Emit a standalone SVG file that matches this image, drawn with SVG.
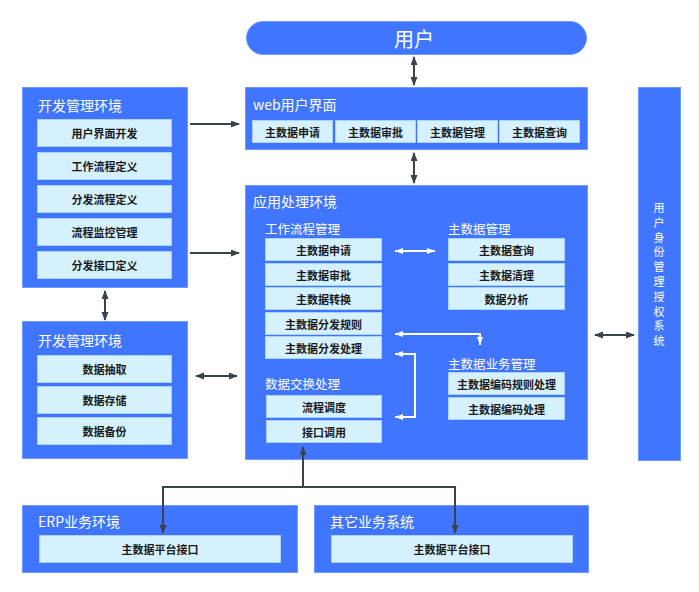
<svg xmlns="http://www.w3.org/2000/svg" width="699" height="592" viewBox="0 0 699 592">
<style>
.blk{fill:#4076FF;stroke:#6E9BFF;stroke-width:1}
.sub{fill:#D5F1FD;stroke:#A9D2F5;stroke-width:1}
.ttl{font-family:"Noto Sans CJK SC","Noto Sans",sans-serif;fill:#fff;font-size:14px;dominant-baseline:central}
.grp{font-family:"Noto Sans CJK SC","Noto Sans",sans-serif;fill:#fff;font-size:12.5px;dominant-baseline:central}
.st{font-family:"Noto Sans CJK SC","Noto Sans",sans-serif;fill:#1a1a1a;font-size:11px;font-weight:bold;text-anchor:middle;dominant-baseline:central}
.dk{fill:none;stroke:#3A4448;stroke-width:2}
.wh{fill:none;stroke:#fff;stroke-width:2}
</style>
<defs>
<marker id="ad" markerUnits="userSpaceOnUse" markerWidth="10" markerHeight="8" refX="8" refY="3.5" orient="auto-start-reverse"><path d="M0,0 L9,3.5 L0,7 Z" fill="#3A4448"/></marker>
<marker id="aw" markerUnits="userSpaceOnUse" markerWidth="10" markerHeight="8" refX="8" refY="3" orient="auto-start-reverse"><path d="M0,0 L8,3 L0,6 Z" fill="#fff"/></marker>
</defs>
<rect width="699" height="592" fill="#fff"/>

<g id="user">
<rect x="246.5" y="21.5" width="340" height="33" rx="16.5" class="blk"/>
<text x="414" y="38" font-family="Noto Sans CJK SC,sans-serif" font-size="20" fill="#fff" text-anchor="middle" dominant-baseline="central">用户</text>
</g>

<g id="web">
<rect x="245.5" y="87.5" width="342" height="62" class="blk"/>
<text x="253" y="104" class="ttl">web用户界面</text>
<rect x="252.5" y="120.5" width="80" height="22" class="sub"/><text x="292.5" y="131.5" class="st">主数据申请</text>
<rect x="335.5" y="120.5" width="80" height="22" class="sub"/><text x="375.5" y="131.5" class="st">主数据审批</text>
<rect x="417.5" y="120.5" width="80" height="22" class="sub"/><text x="457.5" y="131.5" class="st">主数据管理</text>
<rect x="499.5" y="120.5" width="80" height="22" class="sub"/><text x="539.5" y="131.5" class="st">主数据查询</text>
</g>

<g id="dev1">
<rect x="22.5" y="87.5" width="165" height="200" class="blk"/>
<text x="38" y="105" class="ttl">开发管理环境</text>
<rect x="37.5" y="119.5" width="134" height="27" class="sub"/><text x="104.5" y="133" class="st">用户界面开发</text>
<rect x="37.5" y="152.5" width="134" height="27" class="sub"/><text x="104.5" y="166" class="st">工作流程定义</text>
<rect x="37.5" y="185.5" width="134" height="27" class="sub"/><text x="104.5" y="199" class="st">分发流程定义</text>
<rect x="37.5" y="218.5" width="134" height="27" class="sub"/><text x="104.5" y="232" class="st">流程监控管理</text>
<rect x="37.5" y="251.5" width="134" height="27" class="sub"/><text x="104.5" y="265" class="st">分发接口定义</text>
</g>

<g id="dev2">
<rect x="22.5" y="321.5" width="165" height="137" class="blk"/>
<text x="38" y="340" class="ttl">开发管理环境</text>
<rect x="37.5" y="355.5" width="134" height="27" class="sub"/><text x="104.5" y="369" class="st">数据抽取</text>
<rect x="37.5" y="386.5" width="134" height="27" class="sub"/><text x="104.5" y="400" class="st">数据存储</text>
<rect x="37.5" y="417.5" width="134" height="27" class="sub"/><text x="104.5" y="431" class="st">数据备份</text>
</g>

<g id="app">
<rect x="245.5" y="185.5" width="342" height="274" class="blk"/>
<text x="253" y="201" class="ttl">应用处理环境</text>
<text x="265" y="228" class="grp">工作流程管理</text>
<rect x="265.5" y="238.5" width="116" height="22" class="sub"/><text x="323.5" y="249.5" class="st">主数据申请</text>
<rect x="265.5" y="263.5" width="116" height="22" class="sub"/><text x="323.5" y="274.5" class="st">主数据审批</text>
<rect x="265.5" y="287.5" width="116" height="22" class="sub"/><text x="323.5" y="298.5" class="st">主数据转换</text>
<rect x="265.5" y="312.5" width="116" height="22" class="sub"/><text x="323.5" y="323.5" class="st">主数据分发规则</text>
<rect x="265.5" y="336.5" width="116" height="22" class="sub"/><text x="323.5" y="347.5" class="st">主数据分发处理</text>
<text x="448" y="228" class="grp">主数据管理</text>
<rect x="448.5" y="238.5" width="116" height="22" class="sub"/><text x="506.5" y="249.5" class="st">主数据查询</text>
<rect x="448.5" y="263.5" width="116" height="22" class="sub"/><text x="506.5" y="274.5" class="st">主数据清理</text>
<rect x="448.5" y="287.5" width="116" height="22" class="sub"/><text x="506.5" y="298.5" class="st">数据分析</text>
<text x="448" y="363" class="grp">主数据业务管理</text>
<rect x="448.5" y="372.5" width="116" height="22" class="sub"/><text x="506.5" y="383.5" class="st">主数据编码规则处理</text>
<rect x="448.5" y="397.5" width="116" height="22" class="sub"/><text x="506.5" y="408.5" class="st">主数据编码处理</text>
<text x="265" y="383" class="grp">数据交换处理</text>
<rect x="266.5" y="395.5" width="115" height="22" class="sub"/><text x="324" y="406.5" class="st">流程调度</text>
<rect x="266.5" y="420.5" width="115" height="22" class="sub"/><text x="324" y="431.5" class="st">接口调用</text>
</g>

<g id="auth">
<rect x="638.5" y="87.5" width="42" height="373" class="blk"/>
<text font-family="Noto Sans CJK SC,sans-serif" font-size="11" fill="#fff" text-anchor="middle" dominant-baseline="central">
<tspan x="659" y="207">用</tspan><tspan x="659" y="221.8">户</tspan><tspan x="659" y="236.6">身</tspan><tspan x="659" y="251.4">份</tspan><tspan x="659" y="266.2">管</tspan><tspan x="659" y="281">理</tspan><tspan x="659" y="295.8">授</tspan><tspan x="659" y="310.6">权</tspan><tspan x="659" y="325.4">系</tspan><tspan x="659" y="340.2">统</tspan>
</text>
</g>

<g id="erp">
<rect x="22.5" y="505.5" width="275" height="67" class="blk"/>
<text x="38" y="521" class="ttl">ERP业务环境</text>
<rect x="39.5" y="535.5" width="241" height="27" class="sub"/><text x="160" y="549" class="st">主数据平台接口</text>
</g>

<g id="other">
<rect x="314.5" y="505.5" width="274" height="67" class="blk"/>
<text x="330" y="521" class="ttl">其它业务系统</text>
<rect x="331.5" y="535.5" width="241" height="27" class="sub"/><text x="452" y="549" class="st">主数据平台接口</text>
</g>

<g id="connectors">
<path d="M414,57 V85" class="dk" marker-start="url(#ad)" marker-end="url(#ad)"/>
<path d="M414,153 V183" class="dk" marker-start="url(#ad)" marker-end="url(#ad)"/>
<path d="M190,124 H239" class="dk" marker-end="url(#ad)"/>
<path d="M190,253 H239" class="dk" marker-end="url(#ad)"/>
<path d="M105,291 V320" class="dk" marker-start="url(#ad)" marker-end="url(#ad)"/>
<path d="M196,376 H237" class="dk" marker-start="url(#ad)" marker-end="url(#ad)"/>
<path d="M595,335 H634" class="dk" marker-start="url(#ad)" marker-end="url(#ad)"/>
<path d="M303,487 V447" class="dk" marker-end="url(#ad)"/>
<path d="M303,487 H163 V533" class="dk" marker-end="url(#ad)"/>
<path d="M303,487 H455 V533" class="dk" marker-end="url(#ad)"/>
<path d="M395,251 H435" class="wh" marker-start="url(#aw)" marker-end="url(#aw)"/>
<path d="M395,334 H480 V345" class="wh" marker-start="url(#aw)" marker-end="url(#aw)"/>
<path d="M395,354 H415 V417 H395" class="wh" marker-start="url(#aw)" marker-end="url(#aw)"/>
</g>
</svg>
